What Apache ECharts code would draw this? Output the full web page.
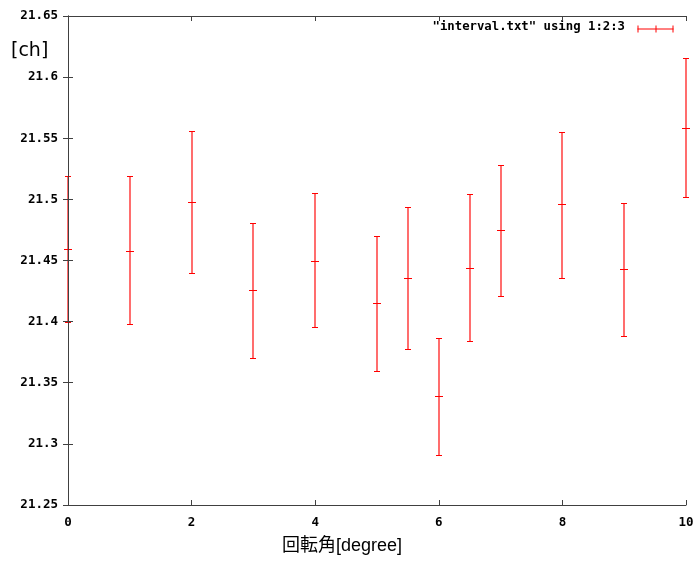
<!DOCTYPE html>
<html><head><meta charset="utf-8">
<script src="https://cdn.jsdelivr.net/npm/echarts@6/dist/echarts.min.js"></script>
<style>html,body{margin:0;padding:0;background:#fff}#c{width:698px;height:561px}</style>
</head><body><div id="c"></div>
<script>
const xValues = [0, 1, 2, 3, 4, 5, 5.5, 6, 6.5, 7, 8, 9, 10];
const yValues = [21.459, 21.458, 21.498, 21.426, 21.450, 21.415, 21.436, 21.339, 21.444, 21.475, 21.496, 21.443, 21.558];
const yLow    = [21.400, 21.398, 21.440, 21.370, 21.396, 21.360, 21.378, 21.291, 21.384, 21.421, 21.436, 21.388, 21.502];
const yHigh   = [21.519, 21.519, 21.556, 21.481, 21.505, 21.470, 21.494, 21.387, 21.504, 21.528, 21.555, 21.497, 21.616];
const seriesName = '"interval.txt" using 1:2:3';
const xTitle = '回転角[degree]';
const yTitle = '[ch]';

const data = xValues.map((x, i) => [x, yValues[i], yLow[i], yHigh[i]]);
const axisColor = '#404040';
const labelFont = { fontFamily: 'DejaVu Sans Mono', fontWeight: 'bold', fontSize: 12.5, color: '#000' };

const chart = echarts.init(document.getElementById('c'), null, { renderer: 'canvas' });
const yAxisBase = {
  type: 'value', min: 21.25, max: 21.65, interval: 0.05, z: 10,
  axisLine: { show: true, lineStyle: { color: axisColor, width: 1 } },
  axisTick: { show: true, inside: true, length: 5, lineStyle: { color: axisColor } },
  splitLine: { show: false }
};
const xAxisBase = {
  type: 'value', min: 0, max: 10, interval: 2, z: 10,
  axisLine: { show: true, onZero: false, lineStyle: { color: axisColor, width: 1 } },
  axisTick: { show: true, inside: true, length: 5, lineStyle: { color: axisColor } },
  splitLine: { show: false }
};
chart.setOption({
  animation: false,
  backgroundColor: '#fff',
  grid: { left: 68, right: 12, top: 16, bottom: 56, containLabel: false },
  xAxis: [
    Object.assign({}, xAxisBase, { position: 'bottom', axisLabel: Object.assign({ margin: 11 }, labelFont) }),
    Object.assign({}, xAxisBase, { position: 'top', axisLabel: { show: false } })
  ],
  yAxis: [
    Object.assign({}, yAxisBase, { position: 'left', axisLabel: Object.assign({ margin: 10, formatter: v => String(+v.toFixed(2)) }, labelFont) }),
    Object.assign({}, yAxisBase, { position: 'right', axisLabel: { show: false } })
  ],
  series: [{
    type: 'custom',
    name: seriesName,
    clip: false,
    z: 1,
    data: data,
    encode: { x: 0, y: [1, 2, 3] },
    renderItem: function (params, api) {
      const x = api.value(0);
      const c = api.coord([x, api.value(1)]);
      const lo = api.coord([x, api.value(2)]);
      const hi = api.coord([x, api.value(3)]);
      const px = Math.round(c[0]);
      const yh = Math.round(hi[1]) + 0.5, yl = Math.round(lo[1]) + 0.5, yc = Math.round(c[1]) + 0.5;
      const style = { stroke: '#ff0000', lineWidth: 1 };
      const capW = 3, midW = 4;
      return {
        type: 'group',
        children: [
          { type: 'line', shape: { x1: px, y1: yh, x2: px, y2: yl }, style: { stroke: '#ff2020', lineWidth: 1.3 } },
          { type: 'line', shape: { x1: px - capW, y1: yh, x2: px + capW, y2: yh }, style: style },
          { type: 'line', shape: { x1: px - capW, y1: yl, x2: px + capW, y2: yl }, style: style },
          { type: 'line', shape: { x1: px - midW, y1: yc, x2: px + midW, y2: yc }, style: style }
        ]
      };
    }
  }],
  graphic: [
    { type: 'text', right: 73, top: 21, style: { text: seriesName, font: 'bold 12.3px "DejaVu Sans Mono"', fill: '#000' } },
    { type: 'group', left: 635, top: 23, children: [
      { type: 'line', shape: { x1: 0, y1: 3.5, x2: 36, y2: 3.5 }, style: { stroke: '#ff0000', lineWidth: 1 } },
      { type: 'line', shape: { x1: 0.5, y1: 0, x2: 0.5, y2: 7 }, style: { stroke: '#ff0000', lineWidth: 1 } },
      { type: 'line', shape: { x1: 18.5, y1: 0, x2: 18.5, y2: 7 }, style: { stroke: '#ff0000', lineWidth: 1 } },
      { type: 'line', shape: { x1: 35.5, y1: 0, x2: 35.5, y2: 7 }, style: { stroke: '#ff0000', lineWidth: 1 } }
    ]},
    { type: 'text', left: 11, top: 42, style: { text: yTitle, font: '19px "DejaVu Sans"', fill: '#000' } },
    { type: 'text', left: 282, top: 537, style: { text: xTitle, font: '18px "Liberation Sans", "Noto Sans CJK JP"', fill: '#000' } }
  ]
});
</script>
</body></html>
